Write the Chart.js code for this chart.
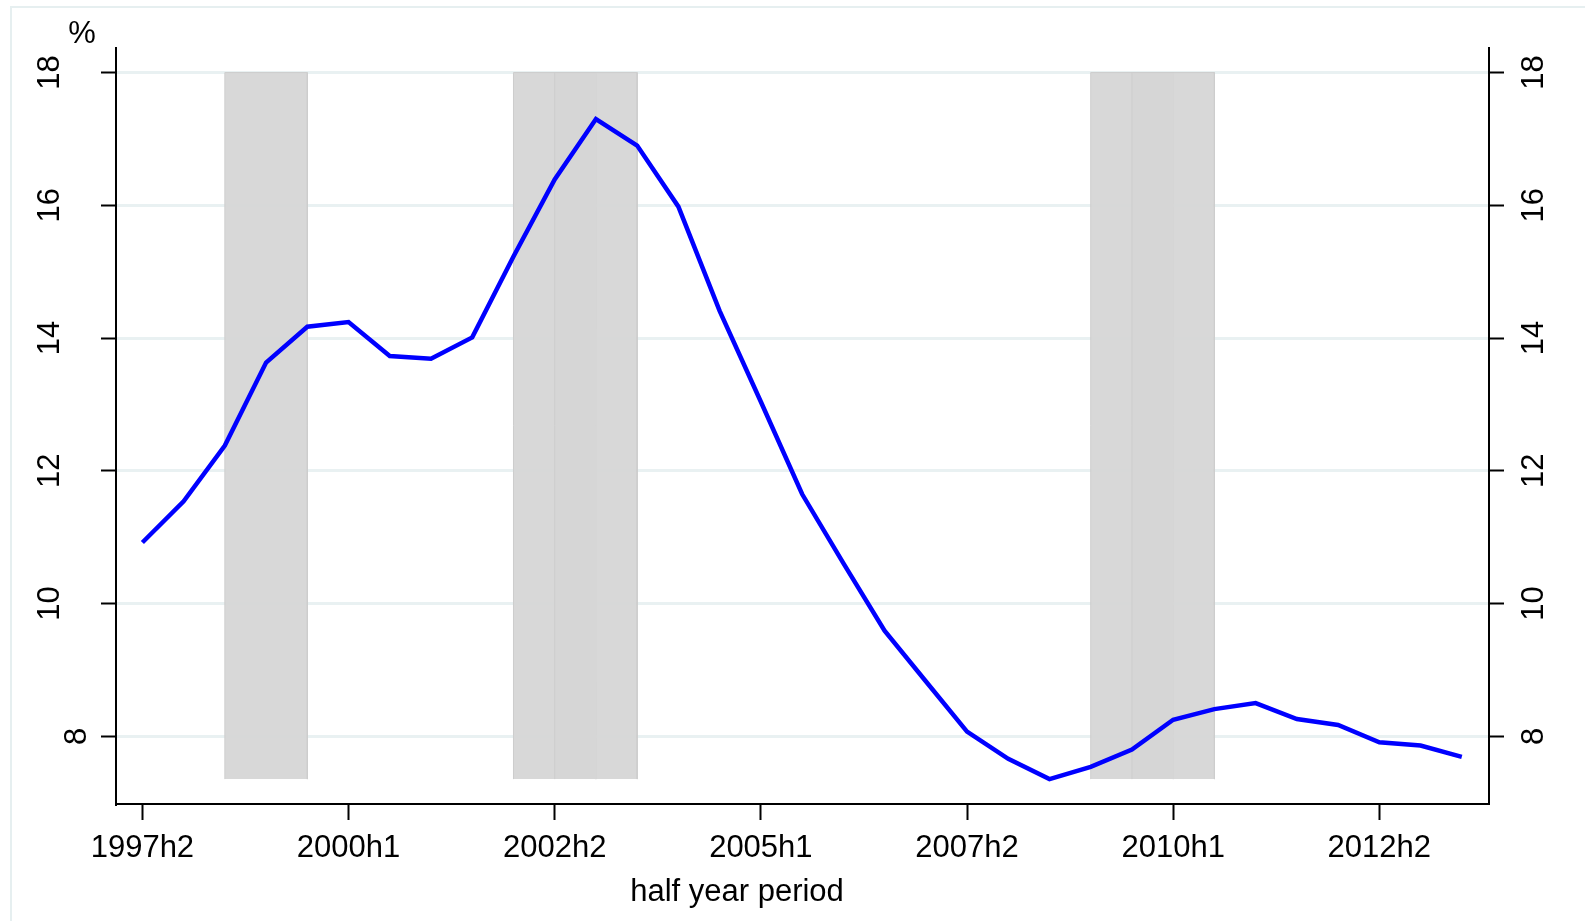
<!DOCTYPE html>
<html>
<head>
<meta charset="utf-8">
<title>Half year rate</title>
<script src="https://cdn.jsdelivr.net/npm/chart.js@4.4.1/dist/chart.umd.min.js"></script>
<style>
  html, body { margin: 0; padding: 0; background: #fff; }
  #wrap { width: 1585px; height: 921px; position: relative; overflow: hidden; }
</style>
</head>
<body>
<div id="wrap"><canvas id="chart" width="1585" height="921"></canvas></div>
<script>
const periods = [
  "1997h2", "1998h1", "1998h2", "1999h1", "1999h2", "2000h1", "2000h2",
  "2001h1", "2001h2", "2002h1", "2002h2", "2003h1", "2003h2", "2004h1",
  "2004h2", "2005h1", "2005h2", "2006h1", "2006h2", "2007h1", "2007h2",
  "2008h1", "2008h2", "2009h1", "2009h2", "2010h1", "2010h2", "2011h1",
  "2011h2", "2012h1", "2012h2", "2013h1", "2013h2"
];
const rate = [
  10.92, 11.54, 12.38, 13.63, 14.17, 14.24, 13.73, 13.69, 14.01, 15.23,
  16.39, 17.30, 16.90, 15.98, 14.41, 13.04, 11.65, 10.61, 9.59, 8.83,
  8.07, 7.66, 7.355, 7.54, 7.80, 8.25, 8.41, 8.50, 8.26, 8.17,
  7.91, 7.86, 7.69
];
const xTickIndex = [0, 5, 10, 15, 20, 25, 30];
const yTicks = [8, 10, 12, 14, 16, 18];

// shaded periods (start / end index into periods)
const bandStart = [2, 9, 10, 23, 24];
const bandEnd = [4, 11, 12, 25, 26];
const bandTop = 18;
const bandBottom = Math.min(...rate);

const FONT = '"Liberation Sans", Arial, Helvetica, sans-serif';

// later bands sit on top of earlier ones
const bandSets = bandStart.map((s, i) => ({
  type: "line",
  data: [
    { x: s, y: bandBottom },
    { x: s, y: bandTop },
    { x: bandEnd[i], y: bandTop },
    { x: bandEnd[i], y: bandBottom }
  ],
  borderColor: "#cdcdcd",
  borderWidth: 1,
  backgroundColor: "rgba(214,214,214,0.95)",
  fill: { value: bandBottom },
  pointRadius: 0,
  tension: 0,
  order: 20 - i
}));

const axisText = {
  id: "axisText",
  beforeDraw(chart) {
    const ctx = chart.ctx;
    ctx.save();
    ctx.strokeStyle = "#e6eff0";
    ctx.lineWidth = 2;
    ctx.strokeRect(11, 7, 1620, 960);
    ctx.restore();
  },
  afterDraw(chart) {
    const ctx = chart.ctx;
    const y = chart.scales.y;
    const area = chart.chartArea;
    ctx.save();
    ctx.fillStyle = "#000";
    ctx.font = "31px " + FONT;
    ctx.textAlign = "center";
    ctx.textBaseline = "alphabetic";
    yTicks.forEach(v => {
      const py = y.getPixelForValue(v);
      const label = String(v);
      const lx = label.length > 1 ? area.left - 57 : area.left - 30.5;
      [lx, area.right + 54].forEach(px => {
        ctx.save();
        ctx.translate(px, py);
        ctx.rotate(-Math.PI / 2);
        ctx.fillText(label, 0, 0);
        ctx.restore();
      });
    });
    ctx.fillText("%", 82, 43);
    ctx.fillText("half year period", 737, 901);
    ctx.restore();
  }
};

const ctx = document.getElementById("chart").getContext("2d");

const chart = new Chart(ctx, {
  type: "line",
  data: {
    datasets: [
      {
        label: "rate",
        data: rate.map((v, i) => ({ x: i, y: v })),
        borderColor: "#0000ff",
        borderWidth: 4.5,
        pointRadius: 0,
        fill: false,
        tension: 0,
        order: 0
      },
      ...bandSets
    ]
  },
  options: {
    responsive: false,
    animation: false,
    devicePixelRatio: 1,
    layout: { padding: { top: 48, left: 0, right: 0, bottom: 0 } },
    plugins: {
      legend: { display: false },
      tooltip: { enabled: false }
    },
    scales: {
      x: {
        type: "linear",
        min: -0.64,
        max: 32.66,
        afterBuildTicks: s => { s.ticks = xTickIndex.map(v => ({ value: v })); },
        afterFit: s => { s.height = 117; },
        ticks: {
          callback: v => periods[v],
          font: { family: FONT, size: 31 },
          color: "#000",
          padding: 10,
          maxRotation: 0,
          autoSkip: false
        },
        grid: {
          drawOnChartArea: false,
          tickLength: 16,
          tickColor: "#000",
          tickWidth: 2
        },
        border: { color: "#000", width: 2 }
      },
      y: {
        position: "left",
        min: 6.98,
        max: 18.37,
        afterBuildTicks: s => { s.ticks = yTicks.map(v => ({ value: v })); },
        afterFit: s => { s.width = 116; },
        ticks: { display: false },
        grid: {
          color: "#e9f1f2",
          lineWidth: 3,
          tickLength: 15,
          tickColor: "#000",
          tickWidth: 2
        },
        border: { color: "#000", width: 2 }
      },
      y2: {
        position: "right",
        min: 6.98,
        max: 18.37,
        afterBuildTicks: s => { s.ticks = yTicks.map(v => ({ value: v })); },
        afterFit: s => { s.width = 96; },
        ticks: { display: false },
        grid: {
          drawOnChartArea: false,
          tickLength: 15,
          tickColor: "#000",
          tickWidth: 2
        },
        border: { color: "#000", width: 2 }
      }
    }
  },
  plugins: [axisText]
});
</script>
</body>
</html>
